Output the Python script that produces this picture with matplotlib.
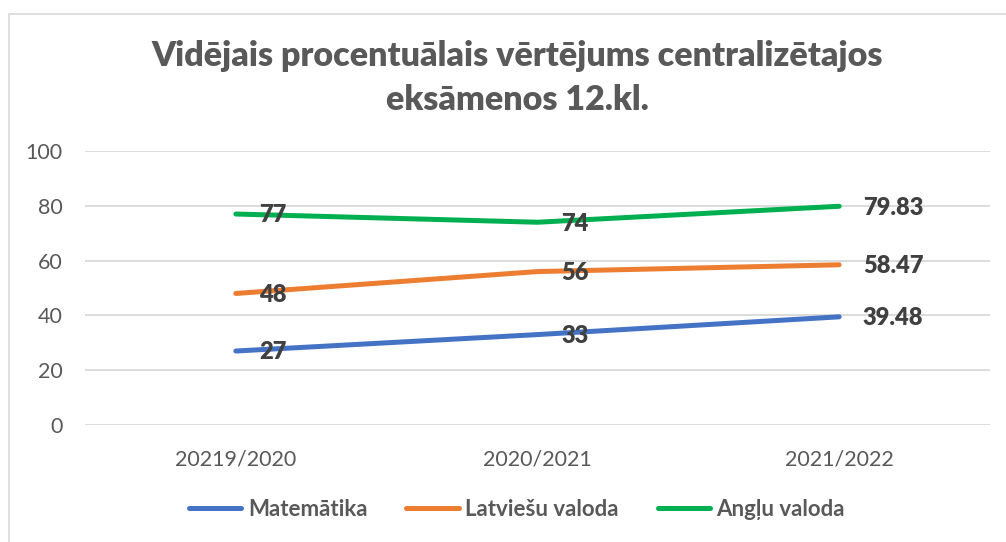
import matplotlib.pyplot as plt
from matplotlib.patches import Rectangle

plt.rcParams['font.family'] = ['Lato', 'DejaVu Sans']

years = ["20219/2020", "2020/2021", "2021/2022"]
matematika = [27, 33, 39.48]
latviesu = [48, 56, 58.47]
anglu = [77, 74, 79.83]
labels_mat = ["27", "33", "39.48"]
labels_lat = ["48", "56", "58.47"]
labels_ang = ["77", "74", "79.83"]

series = [
    ("Matemātika", matematika, labels_mat, "#4472C4"),
    ("Latviešu valoda", latviesu, labels_lat, "#ED7D31"),
    ("Angļu valoda", anglu, labels_ang, "#00B050"),
]

W, H = 1006, 542
fig = plt.figure(figsize=(W / 100, H / 100), dpi=100)

# chart area border (cropped on the right and bottom)
fig.patches.append(Rectangle((9 / W, -0.1), 1.2, 1 - 14 / H + 0.1,
                             transform=fig.transFigure, fill=False,
                             edgecolor="#D9D9D9", linewidth=1.2))

ax = fig.add_axes([85 / W, 1 - 425 / H, (990 - 85) / W, (425 - 151) / H])

x = list(range(len(years)))
for name, vals, labs, color in series:
    ax.plot(x, vals, color=color, linewidth=3.6, solid_capstyle="round",
            label=name)
    for xi, v, t in zip(x, vals, labs):
        ax.annotate(t, (xi, v), xytext=(17, -1), textcoords="offset points",
                    ha="left", va="center", fontsize=17, fontweight=800,
                    color="#404040")

ax.set_xlim(-0.5, 2.5)
ax.set_ylim(0, 100)
ax.set_yticks(range(0, 101, 20))
ax.set_xticks(x)
ax.set_xticklabels(years)
ax.tick_params(length=0, labelsize=15.5, labelcolor="#595959")
ax.tick_params(axis="x", pad=18)
ax.tick_params(axis="y", pad=16)
ax.grid(axis="y", color="#D9D9D9", linewidth=1.3)
ax.set_axisbelow(True)
for s in ax.spines.values():
    s.set_visible(False)

fig.text(517 / W, 1 - 56 / H, "Vidējais procentuālais vērtējums centralizētajos",
         ha="center", va="center", fontsize=24.5, fontweight=800, color="#595959")
fig.text(517 / W, 1 - 100 / H, "eksāmenos 12.kl.",
         ha="center", va="center", fontsize=24.5, fontweight=800, color="#595959")

fig.legend(loc="center", bbox_to_anchor=(517 / W, 1 - 509 / H), ncol=3,
           frameon=False, handlelength=2.35, columnspacing=1.75, handletextpad=0.3,
           prop={"size": 16, "weight": "bold"}, labelcolor="#595959")

fig.savefig("out.png", dpi=100)
